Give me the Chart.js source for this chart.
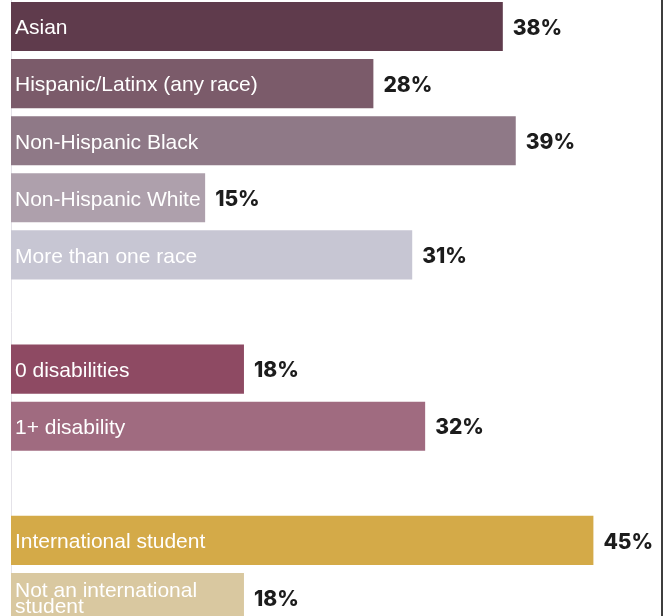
<!DOCTYPE html>
<html>
<head>
<meta charset="utf-8">
<script src="https://cdn.jsdelivr.net/npm/chart.js@4"></script>
<style>
  html, body { margin: 0; padding: 0; background: #fff; overflow: hidden; }
  #wrap { position: absolute; left: 0; top: -2px; width: 668px; height: 628px; }
</style>
</head>
<body>
<div id="wrap"><canvas id="chart"></canvas></div>
<script>
'use strict';

// Empty strings / nulls are the spacer rows between the three groups
const CATEGORIES = [
  'Asian',
  'Hispanic/Latinx (any race)',
  'Non-Hispanic Black',
  'Non-Hispanic White',
  'More than one race',
  '',
  '0 disabilities',
  '1+ disability',
  '',
  'International student',
  ['Not an international', 'student'],
];
const VALUES = [38, 28, 39, 15, 31, null, 18, 32, null, 45, 18];
const BAR_COLORS = [
  '#5f3b4c', '#7b5b6a', '#8f7987', '#aea0ac', '#c7c6d3', '#fff',
  '#8e4a63', '#a06b80', '#fff',
  '#d4aa48', '#d9c8a0',
];
const X_MAX = 50.3;

// ── Text inside / next to each bar ─────────────────────────────────────────

const barText = {
  id: 'barText',
  afterDatasetsDraw(chart) {
    const { ctx } = chart;
    const meta = chart.getDatasetMeta(0);
    ctx.save();
    meta.data.forEach((bar, i) => {
      const v = VALUES[i];
      if (v === null) return;
      const lines = [].concat(CATEGORIES[i]);
      const left = chart.scales.x.getPixelForValue(0);

      ctx.fillStyle = '#fff';
      ctx.font = '21px "Liberation Sans", Arial, sans-serif';
      ctx.textAlign = 'left';
      ctx.textBaseline = 'middle';
      const lh = 16;
      lines.forEach((ln, k) => {
        const y = bar.y + 2 + (k - (lines.length - 1) / 2) * lh;
        ctx.fillText(ln, left + 4, y);
      });

      ctx.fillStyle = '#1c1c1c';
      ctx.font = '800 21px Inter, "DejaVu Sans", sans-serif';
      ctx.fillText(v + '%', bar.x + 10, bar.y + 2);
    });
    ctx.restore();
  },
};

// thin dark frame line on the right
const rightRule = {
  id: 'rightRule',
  afterDraw(chart) {
    const { ctx, chartArea } = chart;
    ctx.save();
    ctx.strokeStyle = '#3e3e3e';
    ctx.lineWidth = 2;
    ctx.beginPath();
    ctx.moveTo(chartArea.right, 0);
    ctx.lineTo(chartArea.right, chart.height);
    ctx.stroke();
    ctx.restore();
  },
};

new Chart(document.getElementById('chart').getContext('2d'), {
  type: 'bar',
  data: {
    labels: CATEGORIES,
    datasets: [{
      data: VALUES,
      backgroundColor: BAR_COLORS,
      borderWidth: 0,
      barPercentage: 0.86,
      categoryPercentage: 1,
    }],
  },
  options: {
    indexAxis: 'y',
    responsive: true,
    maintainAspectRatio: false,
    animation: false,
    layout: { padding: { left: 11, right: 6, top: 0, bottom: 0 } },
    plugins: {
      legend: { display: false },
      tooltip: { enabled: false },
    },
    scales: {
      x: { display: false, min: 0, max: X_MAX },
      y: {
        ticks: { display: false },
        grid: { display: false, drawTicks: false },
        border: { display: true, color: '#e4e2e8', width: 1 },
      },
    },
  },
  plugins: [barText, rightRule],
});
</script>
</body>
</html>
